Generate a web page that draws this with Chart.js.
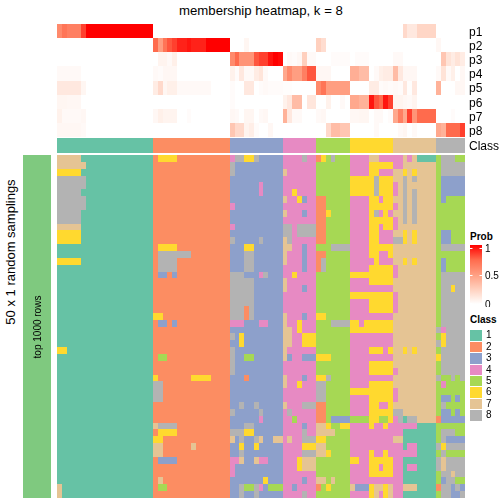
<!DOCTYPE html>
<html><head><meta charset="utf-8">
<script src="https://cdn.jsdelivr.net/npm/chart.js@4"></script>
<style>
html,body{margin:0;padding:0;background:#fff;width:504px;height:504px;overflow:hidden}
canvas{position:absolute;display:block}
.t{position:absolute;font-family:"Liberation Sans",Arial,sans-serif;color:#000;white-space:nowrap;line-height:1}
</style></head><body>
<div class="t" id="title" style="left:179px;top:4px;font-size:13.2px">membership heatmap, k = 8</div>
<div class="t" style="left:10px;top:252px;font-size:13px;transform:translate(-50%,-50%) rotate(-90deg)">50 x 1 random samplings</div>
<div class="t" style="left:470px;top:232px;font-size:10px;font-weight:bold">Prob</div>
<div class="t" style="left:470px;top:315px;font-size:10px;font-weight:bold">Class</div>
<canvas id="strip" width="28" height="343" style="left:23px;top:155px"></canvas>
<div class="t" style="left:37.5px;top:327px;font-size:10px;transform:translate(-50%,-50%) rotate(-90deg)">top 1000 rows</div>
<canvas id="probs" width="447" height="113" style="left:57px;top:24px"></canvas>
<canvas id="classBar" width="447" height="15" style="left:57px;top:138px"></canvas>
<canvas id="samples" width="408" height="343" style="left:57px;top:155px"></canvas>
<canvas id="probLegend" width="34" height="66" style="left:470px;top:241px"></canvas>
<canvas id="classLegend" width="34" height="91" style="left:470px;top:330px"></canvas>
<script>
// Class palette and labels
const classLabels = ['1','2','3','4','5','6','7','8'];
const classColors = ['#66C2A5','#FC8D62','#8DA0CB','#E78AC3','#A6D854','#FFD92F','#E5C494','#B3B3B3'];
const stripColor = '#7FC97F';
const stripLabel = 'top 1000 rows';
const columnCount = 85;
// Number of samples in each predicted class, left to right
const classSizes = [20,16,11,7,7,9,9,6];

// Membership probabilities: "startColumn:value" runs, each lasting until the next start
const p1 = "0:.6 1:.7 2:.65 5:.85 6:1 20:0 72:.2 73:.12 75:.22 79:0";
const p2 = "0:0 20:.75 21:.5 22:.7 23:.8 24:.85 25:.92 27:.95 28:.92 31:1 36:0 39:.05 40:0 54:.25 55:.18 56:0 79:.04 80:0";
const p3 = "0:0 21:.06 23:.03 24:.08 25:0 36:.6 37:.75 38:.55 41:.8 42:.85 44:.95 45:1 46:.98 47:0 48:.03 49:.02 50:.04 51:.25 52:.03 54:0 57:.02 61:0 62:.02 65:0 70:.03 72:0 80:.3 81:.15 82:.1 83:.15 84:.1";
const p4 = "0:.03 5:0 20:.03 21:.02 22:.04 25:0 36:.07 37:.02 38:.12 39:.03 41:.1 42:.14 43:.03 44:0 47:.45 48:.6 49:.5 51:.65 52:.8 54:.04 57:0 61:.42 63:.35 65:0 66:.03 67:.08 68:.1 70:.35 71:.12 72:.04 75:0 79:.03 80:.15 81:.03 82:.08 83:0 84:.04";
const p5 = "0:.12 5:.05 6:0 20:.1 21:.2 22:.05 23:.08 25:.03 32:0 36:.02 37:0 39:.12 41:0 42:.02 43:.03 44:.02 47:.01 49:0 54:.6 55:.7 56:.5 61:0 65:.1 67:.02 68:.03 69:.02 70:.03 71:.02 72:.12 73:.01 74:.12 75:0 79:.4 80:0 83:.04";
const p6 = "0:.05 2:.04 5:0 36:.02 37:0 47:.07 48:.12 49:.35 51:0 52:.13 54:0 56:.07 57:0 59:.03 60:0 61:.45 63:.4 65:.95 66:.8 67:.75 68:.95 69:.85 70:.06 72:.04 73:.03 74:.06 75:0";
const p7 = "0:.07 1:.03 5:.04 6:0 20:.04 21:.08 22:.06 25:0 27:.02 28:0 36:.04 37:.03 38:0 39:.05 41:0 42:.03 43:.04 44:0 47:.4 48:.12 49:.03 51:0 54:.03 55:.04 56:0 61:.04 63:.05 65:0 66:.03 68:0 69:.02 70:.45 71:.65 72:.45 73:.85 74:.55 75:.75 79:0 82:.02 83:0";
const p8 = "0:.04 5:.03 6:0 36:.3 37:.2 39:.06 40:.09 41:.02 42:0 44:.04 45:0 56:.2 57:.35 59:.3 61:0 66:.03 67:0 71:.03 72:.05 73:0 74:.03 75:0 79:.45 80:.4 81:.75 84:.85";
const probRowLabels = ['p1','p2','p3','p4','p5','p6','p7','p8'];
const probRows = [p1,p2,p3,p4,p5,p6,p7,p8];
const probScaleStops = [[0,[255,255,255]],[.1,[255,236,228]],[.25,[255,208,190]],[.5,[255,158,129]],[.75,[255,107,77]],[1,[255,0,0]]];
const probTickValues = [0,.5,.95];
const probTickLabels = ['0','0.5','1'];

// 50 random samplings: "startColumn:class" runs, each lasting until the next start
const sampleRows = [
"0:7 5:1 20:2 21:6 25:2 36:4 37:8 39:6 41:8 42:3 47:4 51:8 52:4 54:2 55:6 56:5 57:8 58:5 61:4 65:7 67:4 72:7 73:4 74:7 75:1 79:5 80:8 83:5",
"0:7 6:1 20:2 36:8 37:3 47:4 54:5 61:4 65:6 70:4 72:7 79:5 80:8",
"0:6 5:1 20:2 36:8 37:3 47:7 48:4 54:5 61:4 65:6 67:4 70:7 72:6 73:7 74:6 75:7 79:5 80:8",
"0:8 6:1 20:2 36:3 47:4 54:5 61:6 66:8 67:6 70:7 72:8 73:7 74:8 75:7 79:5 80:3",
"0:8 6:1 20:2 36:3 42:4 43:3 47:4 54:5 61:6 66:8 67:6 70:4 71:7 72:8 73:7 79:5 80:3",
"0:8 5:1 20:2 36:3 42:4 43:3 47:4 49:6 50:4 54:5 61:6 66:8 67:6 70:4 71:7 72:8 73:7 74:8 75:7 79:5 80:3",
"0:8 6:1 20:2 36:3 47:7 48:4 50:6 51:3 52:4 54:2 56:5 61:4 65:6 67:4 68:6 70:7 72:8 73:7 74:8 75:7 79:5 80:3 81:5",
"0:8 6:1 20:2 36:4 37:3 47:4 54:2 56:5 61:4 65:6 70:4 71:7 72:8 73:7 74:8 75:7 79:5",
"0:8 5:1 20:2 36:3 47:7 48:4 51:3 52:4 54:2 56:6 57:5 61:4 65:6 66:8 67:4 68:6 69:4 70:7 72:8 73:7 74:8 75:7 79:5",
"0:8 5:1 20:2 36:3 47:4 54:2 56:5 61:4 65:6 70:4 71:7 72:8 73:7 74:8 75:7 79:5",
"0:7 5:1 20:2 36:4 37:3 47:8 49:4 50:8 54:2 56:5 61:4 65:6 67:4 68:6 70:4 71:7 79:5",
"0:6 5:1 20:2 36:3 47:8 49:4 50:8 54:2 56:5 61:4 65:6 67:4 70:7 72:6 73:7 74:6 75:7 79:5 80:3 82:5",
"0:6 5:1 20:2 36:8 37:3 42:8 43:3 47:7 48:8 49:4 54:2 56:5 61:4 65:6 67:4 70:8 72:6 73:7 74:6 75:7 79:5 80:3 82:5",
"0:1 20:2 21:6 25:2 36:3 39:6 41:3 47:7 49:4 51:3 52:4 54:5 57:8 61:4 65:6 70:7 79:5 80:8",
"0:1 20:2 21:8 28:2 36:3 39:8 41:3 47:7 48:4 51:3 52:4 54:2 56:5 61:4 65:6 67:4 69:6 70:7 79:5",
"0:6 5:1 20:2 21:8 25:2 36:3 39:8 41:3 47:7 48:4 51:3 52:4 54:2 55:8 56:5 61:4 66:6 67:4 70:7 72:6 73:7 74:6 75:7 79:5 80:3 81:5",
"0:1 20:2 21:8 25:2 36:3 39:8 41:3 47:4 51:3 52:4 54:2 55:8 56:5 61:4 65:6 70:4 71:7 79:5 80:3 81:5",
"0:1 20:2 21:3 23:2 24:3 25:2 36:8 39:3 42:4 43:8 44:3 47:4 49:6 50:4 54:5 61:6 70:4 71:7 79:5 80:8",
"0:1 20:2 36:8 41:3 47:7 48:4 54:5 61:4 65:6 70:7 79:5 80:8",
"0:1 20:2 36:8 41:3 47:7 48:4 51:3 52:4 54:5 61:4 70:7 79:5 80:8 82:6 83:8",
"0:1 20:2 36:8 41:3 47:4 54:5 61:6 70:4 71:7 79:5 80:8",
"0:1 20:2 36:8 41:3 47:4 54:5 61:4 65:6 70:4 71:7 79:5 80:8",
"0:1 20:2 36:8 39:2 40:8 41:3 47:4 54:5 61:4 65:6 70:4 71:7 79:5 80:8",
"0:1 20:6 22:2 36:8 39:2 40:8 41:3 47:7 48:4 51:3 52:4 54:6 56:5 61:4 70:7 79:5 80:8",
"0:1 20:2 21:3 23:2 24:3 25:2 36:4 39:3 42:4 44:3 47:7 48:4 50:6 51:4 54:5 57:8 61:6 63:4 64:6 70:7 79:5 80:8",
"0:1 20:2 36:3 47:7 49:4 50:6 51:4 54:5 61:6 70:7 79:8 80:4 81:8",
"0:1 20:2 36:8 37:3 38:6 39:3 47:7 49:4 51:6 54:5 61:4 70:7 79:5 80:6 81:8",
"0:1 20:2 36:3 38:6 39:3 47:7 49:4 51:6 54:5 61:4 70:7 79:8 80:6 81:8",
"0:6 2:1 20:2 36:8 37:3 47:7 48:4 54:5 61:4 65:6 68:4 69:6 70:7 72:6 73:7 74:6 75:7 79:5 80:8",
"0:1 20:2 21:5 23:2 36:8 37:3 39:5 41:3 47:7 48:3 49:4 51:3 54:6 57:5 61:4 70:7 79:6 80:8",
"0:1 20:2 36:8 37:3 47:4 54:5 61:4 65:6 70:7 79:5 80:8",
"0:1 20:2 36:8 37:3 47:4 54:5 61:4 65:6 70:4 71:7 79:5 80:8",
"0:1 20:6 21:2 28:6 32:2 36:3 39:2 40:3 47:7 48:4 51:3 52:4 54:6 56:8 57:5 61:4 70:7 79:8 80:5 82:8 83:5 84:8",
"0:1 20:8 22:2 36:3 47:7 48:4 50:6 51:4 54:8 56:5 61:4 65:6 70:7 79:5 80:4 81:5",
"0:1 20:8 22:2 36:3 47:4 54:8 56:5 61:6 70:4 71:7 79:5",
"0:1 20:8 22:2 36:3 47:4 54:8 56:5 61:4 65:6 70:4 71:7 79:5 80:3 82:5 83:3 84:5",
"0:1 20:2 36:3 38:8 39:3 41:8 42:3 47:7 48:4 51:8 54:2 56:5 61:4 65:6 67:4 69:6 70:7 79:5 80:8 81:5",
"0:1 20:2 36:8 37:3 42:8 43:3 47:4 48:8 49:4 54:2 56:5 61:4 65:6 70:8 72:7 79:5 80:3 82:5 83:3 84:5",
"0:1 20:2 36:3 42:4 43:3 47:4 49:5 50:4 54:2 56:5 57:3 61:5 65:6 67:5 69:6 70:4 71:8 72:1 73:8 75:7 79:2 80:3",
"0:1 20:7 21:8 25:2 36:3 39:8 41:3 47:4 51:3 52:4 54:7 56:6 57:5 59:6 61:4 65:6 66:4 68:6 69:4 75:1 79:5",
"0:1 20:2 21:6 25:2 36:8 39:6 41:3 47:4 51:8 52:4 54:7 58:5 61:4 72:1 79:5 80:8 83:5",
"0:1 20:6 22:2 36:7 37:3 38:8 39:3 41:8 42:7 43:3 45:7 47:4 48:7 49:4 51:8 54:6 56:5 61:4 70:7 72:1 79:5 80:8 81:3",
"0:1 20:7 22:2 28:7 29:2 36:3 38:6 39:3 41:6 42:3 47:4 51:6 54:7 56:5 61:4 72:1 73:4 75:1 79:8 80:6 81:8",
"0:1 20:7 22:2 36:3 38:8 39:3 47:4 51:8 54:7 56:6 57:5 61:4 65:6 66:4 68:6 69:4 75:1 79:5 80:8 81:5",
"0:1 20:2 21:3 25:2 36:4 38:7 39:3 41:7 42:4 44:3 47:4 50:6 51:7 54:5 61:6 63:4 65:6 70:4 72:1 79:8 80:7 81:8",
"0:1 20:2 36:4 37:3 47:4 50:6 51:7 54:5 61:4 65:6 67:4 68:6 70:4 72:1 73:4 75:1 79:8 80:7 81:8",
"0:1 20:2 36:4 37:3 47:4 54:5 61:4 65:6 70:4 72:1 79:5 80:8 82:7 83:8",
"0:1 20:2 21:7 22:2 36:3 43:6 44:3 47:4 51:3 52:4 54:7 56:5 57:7 58:5 61:4 72:1 79:5 80:3 81:8 83:5",
"0:7 1:1 20:2 21:5 23:2 36:3 38:8 39:5 41:8 42:4 43:3 44:5 47:4 49:3 50:4 54:2 55:5 56:6 57:5 61:7 62:3 65:6 66:7 68:6 69:7 70:4 72:7 75:1 79:2 80:8 82:3 83:8 84:3",
"0:7 1:1 20:2 36:3 38:8 39:3 41:8 42:3 47:4 51:8 52:4 54:5 61:4 65:6 66:7 67:4 68:6 69:7 70:4 72:1 79:5 80:8 82:3 84:8"
];
const sampleRowLabels = sampleRows.map((_, i) => 'sampling ' + (i + 1));

Chart.defaults.font.family = '"Liberation Sans", Arial, sans-serif';
Chart.defaults.color = '#000';
Chart.defaults.animation = false;

function parseRuns(text) {
  const pts = text.split(' ').map(s => s.split(':').map(Number));
  return pts.map((p, i) => ({ start: p[0], end: i + 1 < pts.length ? pts[i + 1][0] : columnCount, value: p[1] }));
}
function probColor(v) {
  let i = 1;
  while (i < probScaleStops.length - 1 && v > probScaleStops[i][0]) i++;
  const [a, ca] = probScaleStops[i - 1], [b, cb] = probScaleStops[i];
  const f = (v - a) / (b - a);
  const c = ca.map((x, k) => Math.round(x + (cb[k] - x) * f));
  return `rgb(${c[0]},${c[1]},${c[2]})`;
}
// Keep the heatmap cells on whole pixels, as the raster heatmap does
const snap = v => Math.round(Math.round(v * 1e4) / 1e4);
const snapCells = {
  id: 'snapCells',
  afterDatasetsUpdate(chart) {
    chart.getSortedVisibleDatasetMetas().forEach(meta => meta.data.forEach(el => {
      if (!el.horizontal) return;
      const top = snap(el.y - el.height / 2), bottom = snap(el.y + el.height / 2);
      el.x = snap(el.x); el.base = snap(el.base);
      el.y = (top + bottom) / 2; el.height = bottom - top;
    }));
  }
};
const cellBase = { grouped: false, barPercentage: 1, categoryPercentage: 1, borderWidth: 0, borderSkipped: false, inflateAmount: 0 };
const hidden = { display: false };
const baseOptions = {
  responsive: false, animation: false, indexAxis: 'y',
  layout: { padding: 0 },
  plugins: { legend: { display: false }, title: { display: false }, tooltip: { enabled: false } }
};
function fitAxis(width) {
  return s => { s.width = width; s.paddingTop = 0; s.paddingBottom = 0; };
}
function heatOptions(labels, showLabels, width, labelOffset) {
  return Object.assign({}, baseOptions, {
    scales: {
      x: { type: 'linear', min: 0, max: columnCount, display: false },
      y: {
        type: 'category', labels, position: 'right', display: showLabels,
        grid: { display: false, drawTicks: false }, border: { display: false },
        ticks: { autoSkip: false, font: { size: 12 }, padding: 4, maxRotation: 0, labelOffset },
        afterFit: fitAxis(width)
      }
    }
  });
}

// Membership probability rows
new Chart(document.getElementById('probs'), {
  type: 'bar',
  data: { datasets: probRows.map((row, r) => Object.assign({
    label: probRowLabels[r],
    data: parseRuns(row).map(s => ({ x: [s.start, s.end], y: probRowLabels[r], p: s.value })),
    backgroundColor: c => probColor(c.raw.p)
  }, cellBase)) },
  options: heatOptions(probRowLabels, true, 39, 1.5),
  plugins: [snapCells]
});

// Predicted class annotation
let cursor = 0;
const classRuns = classSizes.map((n, i) => { const r = [cursor, cursor + n]; cursor += n; return r; });
new Chart(document.getElementById('classBar'), {
  type: 'bar',
  data: { datasets: classLabels.map((name, i) => Object.assign({
    label: name, data: [{ x: classRuns[i], y: 'Class' }], backgroundColor: classColors[i]
  }, cellBase)) },
  options: heatOptions(['Class'], true, 39, 1),
  plugins: [snapCells]
});

// Sampling matrix
const sampleCells = classLabels.map(() => []);
sampleRows.forEach((row, r) => parseRuns(row).forEach(s => {
  sampleCells[s.value - 1].push({ x: [s.start, s.end], y: sampleRowLabels[r] });
}));
new Chart(document.getElementById('samples'), {
  type: 'bar',
  data: { datasets: classLabels.map((name, i) => Object.assign({
    label: name, data: sampleCells[i], backgroundColor: classColors[i]
  }, cellBase)) },
  options: heatOptions(sampleRowLabels, false, 0, 0),
  plugins: [snapCells]
});

// Left strip
new Chart(document.getElementById('strip'), {
  type: 'bar',
  data: { labels: [stripLabel], datasets: [Object.assign({ label: stripLabel, data: [[0, 1]], backgroundColor: stripColor }, cellBase)] },
  options: Object.assign({}, baseOptions, { scales: { x: { type: 'linear', min: 0, max: 1, display: false }, y: hidden } })
});

// Prob legend
const whiteDashes = {
  id: 'whiteDashes',
  afterDatasetsDraw(chart) {
    const { ctx, chartArea: a, scales: { y } } = chart;
    ctx.save(); ctx.fillStyle = '#fff';
    probTickValues.forEach(v => {
      const py = Math.round(y.getPixelForValue(v)) - (v === 0 ? 1 : 0);
      ctx.fillRect(a.left, py, 2.5, 1); ctx.fillRect(a.right - 2.5, py, 2.5, 1);
    });
    ctx.restore();
  }
};
new Chart(document.getElementById('probLegend'), {
  type: 'bar',
  data: { labels: ['Prob'], datasets: [Object.assign({
    label: 'Prob', data: [[0, 1]],
    backgroundColor: c => {
      const a = c.chart.chartArea; if (!a) return '#fff';
      const g = c.chart.ctx.createLinearGradient(0, a.bottom, 0, a.top);
      probScaleStops.forEach(s => g.addColorStop(s[0], probColor(s[0])));
      return g;
    }
  }, cellBase)] },
  options: {
    responsive: false, animation: false,
    layout: { padding: { top: 4, bottom: 3 } },
    plugins: baseOptions.plugins,
    scales: {
      x: { display: false },
      y: {
        type: 'linear', min: 0, max: 1, position: 'right',
        grid: { display: false, drawTicks: false }, border: { display: false },
        afterBuildTicks: s => { s.ticks = probTickValues.map(value => ({ value })); },
        afterTickToLabelConversion: s => { s.ticks.forEach((t, i) => { t.label = probTickLabels[i]; }); },
        ticks: { font: { size: 10 }, padding: 3, labelOffset: 1.5 },
        afterFit: fitAxis(22)
      }
    }
  },
  plugins: [whiteDashes]
});

// Class legend
new Chart(document.getElementById('classLegend'), {
  type: 'bar',
  data: { datasets: classLabels.map((name, i) => Object.assign({
    label: name, data: [{ x: [0, 1], y: name }], backgroundColor: classColors[i]
  }, cellBase, { categoryPercentage: .92 })) },
  options: Object.assign({}, baseOptions, {
    scales: {
      x: { type: 'linear', min: 0, max: 1, display: false },
      y: {
        type: 'category', labels: classLabels, position: 'right',
        grid: { display: false, drawTicks: false }, border: { display: false },
        ticks: { autoSkip: false, font: { size: 10 }, padding: 4 },
        afterFit: fitAxis(22)
      }
    }
  }),
  plugins: [snapCells]
});
</script>
</body></html>
